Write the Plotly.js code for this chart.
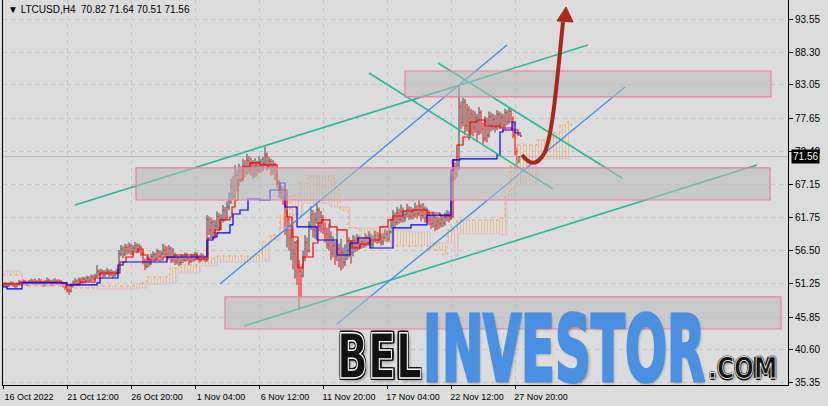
<!DOCTYPE html>
<html><head><meta charset="utf-8">
<script src="https://cdn.plot.ly/plotly-3.0.1.min.js"></script>
<style>
@font-face{font-family:'WMFont';src:local('Liberation Sans Narrow Bold'),local('LiberationSansNarrow-Bold'),local('DejaVu Sans Condensed Bold'),local('DejaVuSansCondensed-Bold'),local('Liberation Sans Bold'),local('LiberationSans-Bold');font-weight:bold;ascent-override:76%;descent-override:0%;line-gap-override:0%;}
html,body{margin:0;padding:0;background:#dcdcdc;}
#wrap{position:relative;width:828px;height:406px;overflow:hidden;}
#chart{position:absolute;left:0;top:0;width:828px;height:406px;}
.wm{position:absolute;white-space:nowrap;line-height:0.8;transform-origin:0 0;font-family:'WMFont','Liberation Sans Narrow','DejaVu Sans Condensed','Liberation Sans',sans-serif;font-weight:bold;pointer-events:none;}
#wmBel{left:337px;top:330px;font-size:62px;color:#111;-webkit-text-stroke:1.4px #fff;text-shadow:2px 0 0 #111,-2px 0 0 #111,0 2px 0 #111,0 -2px 0 #111,2px 2px 0 #111,-2px -2px 0 #111,2px -2px 0 #111,-2px 2px 0 #111,3px 3px 4px rgba(0,0,0,0.35);}
#wmInv{left:423px;top:310px;font-size:92px;color:#4a90e2;-webkit-text-stroke:3px #4a90e2;text-shadow:2px 2px 4px rgba(0,0,0,0.35);}
#wmCom{left:708px;top:355.5px;font-size:29px;color:#111;-webkit-text-stroke:0.8px #fff;text-shadow:1.5px 0 0 #111,-1.5px 0 0 #111,0 1.5px 0 #111,0 -1.5px 0 #111,2px 2px 3px rgba(0,0,0,0.35);}
</style></head>
<body>
<div id="wrap">
<div id="chart"></div>
<div class="wm" id="wmBel">BEL</div>
<div class="wm" id="wmInv">INVESTOR</div>
<div class="wm" id="wmCom">.COM</div>
</div>
<script>
// ---- data (H4 bars, LTCUSD) ----
const tickLabels = ["16 Oct 2022","21 Oct 12:00","26 Oct 20:00","1 Nov 04:00","6 Nov 12:00","11 Nov 20:00","17 Nov 04:00","22 Nov 12:00","27 Nov 20:00"];
const tickBars = [0,32,64,96,128,160,192,224,256];
const priceTicks = [93.55,88.30,83.05,77.65,72.40,67.15,61.75,56.50,51.25,45.85,40.60,35.35];
const lastPrice = 71.56;

const opens = [
51.1,51.0,51.2,50.9,51.1,51.3,51.0,50.8,51.1,51.4,51.2,51.5,51.3,51.1,51.4,51.6,
51.3,51.5,51.2,51.6,51.4,51.1,51.3,51.7,51.5,51.2,51.4,51.6,51.3,51.5,51.2,
51.0,50.6,50.2,50.0,
50.9,51.3,51.6,51.2,51.8,51.5,51.9,51.7,52.1,51.8,52.3,52.0,
52.4,
53.2,52.8,53.1,52.6,52.9,53.2,52.7,53.0,52.6,52.9,
53.1,
56.0,56.8,55.9,57.0,56.4,57.2,56.3,56.9,
57.3,56.6,57.1,
56.0,54.8,54.0,55.2,54.4,
55.6,55.9,55.2,56.3,55.6,56.0,
56.6,56.0,55.4,56.8,55.0,55.8,
54.8,55.3,54.6,55.5,55.0,55.8,55.2,54.8,55.6,55.1,55.9,55.4,55.0,55.7,55.3,
55.0,
61.5,59.8,61.0,59.4,60.5,62.0,60.2,61.5,63.0,61.8,
63.5,64.5,66.8,65.2,68.5,
67.0,69.2,68.0,70.1,69.0,71.0,69.5,70.4,68.8,70.2,69.3,70.8,69.6,70.5,
71.8,70.0,70.8,69.2,70.3,
68.6,67.2,65.8,66.4,
64.6,
59.8,61.5,58.5,60.2,56.0,57.8,54.0,
53.2,
52.5,55.5,57.8,
56.5,60.5,62.3,59.8,61.5,63.0,60.4,61.8,
60.0,59.2,57.5,58.8,56.0,57.3,55.5,56.8,55.0,56.2,54.6,55.8,
56.5,57.5,56.2,58.1,57.0,58.4,
57.2,58.0,57.4,58.6,57.8,58.9,57.5,58.3,59.0,58.2,58.8,57.9,58.6,59.2,58.4,
59.5,60.5,61.8,61.0,62.5,61.5,62.8,61.7,62.3,63.1,62.0,62.7,
62.2,63.0,62.4,63.6,62.1,63.2,61.8,
62.6,61.5,60.8,61.9,60.5,61.2,
60.8,61.5,60.9,61.8,62.3,
61.6,
68.0,69.5,68.8,
70.2,
79.5,77.0,80.2,76.5,79.0,75.8,78.4,
76.2,77.8,75.5,78.6,76.0,74.5,77.2,75.0,78.0,76.4,
77.5,76.2,78.3,76.8,77.9,76.5,78.6,77.2,78.8,
77.6,75.0,72.3,70.82];

const highs = [
51.4,51.5,51.4,51.4,51.6,51.5,51.2,51.4,51.8,51.7,51.9,51.8,51.6,51.8,52.0,51.9,
52.0,51.8,52.1,51.9,51.7,51.8,52.2,52.0,51.8,51.9,52.1,51.9,51.9,51.8,51.5,
51.3,51.0,50.6,51.3,
51.7,52.1,51.9,52.2,52.2,52.3,52.3,52.5,52.4,52.7,52.6,52.8,
54.2,
53.5,53.6,53.4,53.4,53.7,53.5,53.5,53.3,53.3,53.6,
56.6,
57.4,57.2,57.6,57.5,57.8,57.6,57.4,57.9,
57.7,57.6,57.3,
56.3,55.2,55.6,55.5,56.0,
56.4,56.2,56.8,56.6,56.5,57.6,
57.3,57.2,57.4,57.1,56.9,56.2,
55.8,55.6,55.9,55.8,56.2,56.1,55.6,56.0,55.9,56.3,56.2,55.8,56.1,56.0,55.7,
62.2,
62.0,61.8,61.5,61.4,62.8,62.5,62.3,63.8,63.5,64.4,
65.8,68.0,68.5,70.2,69.5,
70.4,70.0,71.2,71.0,72.0,71.6,71.4,71.0,71.3,70.9,71.6,71.2,71.5,73.1,
72.2,71.5,71.2,71.0,70.6,
69.0,67.8,67.0,66.8,
65.0,
63.0,62.0,60.5,60.6,58.0,58.2,55.0,
54.0,
56.5,59.0,58.6,
61.2,63.6,63.0,62.6,64.0,63.4,62.8,62.2,
61.0,60.2,60.8,59.6,58.8,58.0,59.8,57.6,58.4,57.0,57.5,58.0,
58.6,58.2,59.0,58.8,59.2,58.9,
58.7,58.6,59.3,59.0,59.6,59.2,58.9,59.7,59.5,59.4,59.2,59.3,59.9,59.7,60.2,
61.6,63.0,62.6,63.5,63.2,63.9,63.4,63.0,64.0,63.6,63.5,63.3,
64.2,63.8,64.6,64.0,64.1,63.6,63.4,
63.0,62.2,62.8,62.3,62.0,61.8,
62.3,62.0,62.6,63.0,62.8,
68.6,
71.0,70.6,71.2,
83.0,
80.4,81.0,80.8,80.0,79.6,79.2,79.0,
78.8,78.4,79.5,79.0,77.0,78.0,77.8,78.8,78.6,78.4,
78.2,79.0,78.8,78.6,78.4,79.2,79.0,79.5,79.2,
78.0,75.8,73.0,71.64];

const lows = [
50.7,50.8,50.6,50.7,50.9,50.7,50.5,50.6,50.9,50.9,51.0,51.0,50.8,50.9,51.2,51.0,
51.0,50.9,51.0,51.1,50.7,50.8,51.1,51.2,50.8,50.9,51.1,51.0,51.0,50.8,50.6,
50.2,49.8,49.4,49.8,
50.6,51.0,50.9,51.0,51.2,51.2,51.3,51.4,51.5,51.6,51.7,51.8,
52.2,
52.4,52.5,52.2,52.3,52.6,52.3,52.4,52.1,52.3,52.6,
52.8,
55.6,55.3,55.6,55.9,56.0,55.8,55.8,56.4,
56.1,56.2,55.6,
54.3,53.4,53.7,53.9,54.2,
55.2,54.8,55.0,55.2,55.2,55.7,
55.5,54.9,55.1,54.5,54.6,54.2,
54.3,54.0,54.2,54.5,54.7,54.8,54.2,54.5,54.7,54.8,55.0,54.6,54.7,54.9,54.6,
54.7,
59.0,58.6,58.4,58.8,60.0,59.6,59.8,61.0,61.2,61.4,
63.0,64.0,64.6,64.8,66.0,
66.8,67.4,67.6,68.2,68.6,68.8,68.5,68.0,68.2,68.4,68.9,69.0,69.2,70.0,
69.3,69.5,68.5,68.6,67.8,
66.6,65.0,64.8,63.8,
59.0,
57.0,56.5,55.0,53.5,52.0,51.0,47.3,
49.0,
52.2,54.8,55.6,
56.2,59.8,58.6,58.4,60.8,59.6,59.4,59.2,
57.8,56.8,56.5,55.0,55.4,54.2,54.8,53.8,53.3,53.6,54.0,55.0,
55.4,54.4,55.6,56.2,56.4,56.6,
56.8,56.9,57.0,57.2,57.3,56.9,57.0,57.8,57.6,57.7,57.3,57.4,58.0,57.9,58.0,
59.2,60.0,60.2,60.6,60.8,61.0,61.0,61.1,61.8,61.4,61.5,61.5,
61.8,61.6,62.0,61.2,61.6,61.0,61.1,
60.6,60.0,60.2,59.6,59.8,60.0,
60.2,60.3,60.5,61.2,61.0,
61.4,
67.5,67.8,68.2,
69.4,
76.0,76.4,75.0,75.6,74.2,75.0,74.8,
75.4,74.0,75.0,75.2,73.6,74.0,73.8,74.6,75.6,75.8,
75.4,75.8,76.0,76.2,75.6,76.0,76.6,76.8,77.0,
74.5,71.8,70.3,70.51];

const closes = [
51.0,51.2,50.9,51.1,51.3,51.0,50.8,51.1,51.4,51.2,51.5,51.3,51.1,51.4,51.6,51.3,
51.5,51.2,51.6,51.4,51.1,51.3,51.7,51.5,51.2,51.4,51.6,51.3,51.5,51.2,51.0,
50.6,50.2,50.0,50.9,
51.3,51.6,51.2,51.8,51.5,51.9,51.7,52.1,51.8,52.3,52.0,52.4,
53.2,
52.8,53.1,52.6,52.9,53.2,52.7,53.0,52.6,52.9,53.1,
56.0,
56.8,55.9,57.0,56.4,57.2,56.3,56.9,57.3,
56.6,57.1,56.0,
54.8,54.0,55.2,54.4,55.6,
55.9,55.2,56.3,55.6,56.0,56.6,
56.0,55.4,56.8,55.0,55.8,54.8,
55.3,54.6,55.5,55.0,55.8,55.2,54.8,55.6,55.1,55.9,55.4,55.0,55.7,55.3,55.0,
61.5,
59.8,61.0,59.4,60.5,62.0,60.2,61.5,63.0,61.8,63.5,
64.5,66.8,65.2,68.5,67.0,
69.2,68.0,70.1,69.0,71.0,69.5,70.4,68.8,70.2,69.3,70.8,69.6,70.5,71.8,
70.0,70.8,69.2,70.3,68.6,
67.2,65.8,66.4,64.6,
59.8,
61.5,58.5,60.2,56.0,57.8,54.0,53.2,
52.5,
55.5,57.8,56.5,
60.5,62.3,59.8,61.5,63.0,60.4,61.8,60.0,
59.2,57.5,58.8,56.0,57.3,55.5,56.8,55.0,56.2,54.6,55.8,56.5,
57.5,56.2,58.1,57.0,58.4,57.2,
58.0,57.4,58.6,57.8,58.9,57.5,58.3,59.0,58.2,58.8,57.9,58.6,59.2,58.4,59.5,
60.5,61.8,61.0,62.5,61.5,62.8,61.7,62.3,63.1,62.0,62.7,62.2,
63.0,62.4,63.6,62.1,63.2,61.8,62.6,
61.5,60.8,61.9,60.5,61.2,60.8,
61.5,60.9,61.8,62.3,61.6,
68.0,
69.5,68.8,70.2,
79.5,
77.0,80.2,76.5,79.0,75.8,78.4,76.2,
77.8,75.5,78.6,76.0,74.5,77.2,75.0,78.0,76.4,77.5,
76.2,78.3,76.8,77.9,76.5,78.6,77.2,78.8,77.6,
75.0,72.3,70.82,71.56];

// Ichimoku lines (bar index, price)
const tenkanX = [0,8.5,29.5,31.5,34.5,38.5,46,48.5,57.5,58.5,61.5,65,67.5,70,72.5,80,86,97,102.5,106,108.5,113.5,114.5,116,117.5,120,123.5,128.5,136,137,138.5,142,144.5,147.5,150,155,157.5,159.5,163.5,167,172,174.5,178.5,183.5,188.5,192.5,195,200,205,212,218.5,223.5,225,227,230,233.5,237,241,248.5,254.5,257.5,259];
const tenkanY = [51.16,51.48,51.32,50.84,51.0,51.48,52.12,52.92,52.92,54.68,55.48,56.28,56.76,55.8,55.0,55.48,55.8,55.16,58.52,59.81,61.41,61.89,63.49,64.61,67.81,69.89,70.54,70.22,70.22,67.33,66.21,61.89,58.68,53.72,55.48,57.72,60.93,61.41,60.29,59.81,58.04,56.92,57.56,58.2,60.29,61.41,62.05,62.85,63.01,62.53,62.05,61.89,71.02,73.42,74.70,77.10,77.42,76.46,76.14,75.82,75.02,74.70];
const kijunX = [0,2,9.5,32,47,48.5,57.5,60,82,102,105,107,113.5,115,118.5,122.5,128.5,133.5,138.5,141,147,157,167,173.5,177.5,183.5,195,204,212,224,225,228.5,247,248.5,250,254.5,256,259];
const kijunY = [50.68,50.36,51.32,51.0,51.32,52.12,54.2,54.68,55.48,58.2,58.68,59.33,60.61,62.37,63.01,64.77,64.61,66.21,67.33,63.49,60.29,58.2,55.8,57.72,58.52,56.92,60.13,60.61,62.2,69.4,71.02,71.18,71.82,75.5,75.82,77.1,75.34,75.34];
const spanAX = [0,9.5,32,47,67,72,83.5,88.5,98.5,107,127.5,129.5,133.5,138.5,143.5,148.5,152.5,163.5,166,168.5,172.5,178.5,193.5,213.5,220,222,227,248.5,251,253.5,257,267,275,278.5,282,284];
const spanAY = [52.6,50.84,50.52,50.84,51.32,52.28,53.72,54.2,55.32,55.64,55.8,57.88,59.0,62.2,65.41,67.33,68.45,68.13,66.21,63.0,60.13,58.2,57.24,56.6,55.8,59.8,61.41,61.73,65.41,70.21,73.42,74.22,75.34,76.62,77.1,75.02];
const spanBX = [0,8.5,9.5,28.5,47,67,72,83.5,87,98.5,107,129.5,133.5,138.5,145,150,163.5,173.5,193.5,203.5,213.5,226,227.5,248.5,252,257,267,284];
const spanBY = [53.24,53.24,51.16,51.0,50.36,50.52,51.16,51.32,52.92,54.04,54.68,54.84,58.2,60.13,62.21,64.13,63.49,60.13,59.81,59.49,57.72,55.64,59.17,59.0,64.61,67.01,71.18,71.18];

const barIdx = closes.map((_, i) => i);

const traces = [
  {type:'scatter', mode:'lines', x:spanBX, y:spanBY, line:{color:'#d8bfd8', width:1, shape:'hv'}, hoverinfo:'skip'},
  {type:'scatter', mode:'lines', x:spanAX, y:spanAY, line:{color:'#f4a460', width:1, dash:'dot', shape:'hv'},
   fill:'tonexty', fillcolor:'rgba(0,0,0,0)',
   fillpattern:{shape:'|', fgcolor:'rgba(244,164,96,0.8)', bgcolor:'rgba(0,0,0,0)', size:3, solidity:0.22}, hoverinfo:'skip'},
  {type:'ohlc', x:barIdx, open:opens, high:highs, low:lows, close:closes, tickwidth:0.3,
   increasing:{line:{color:'#2f4f4f', width:1}}, decreasing:{line:{color:'#ff0000', width:1}}, hoverinfo:'skip'},
  {type:'scatter', mode:'lines', x:tenkanX, y:tenkanY, line:{color:'#ff0000', width:1.2, shape:'hv'}, hoverinfo:'skip'},
  {type:'scatter', mode:'lines', x:kijunX, y:kijunY, line:{color:'#0000ff', width:1.2, shape:'hv'}, hoverinfo:'skip'}
];

const teal = '#26b99a', tblue = '#3d8ef0', pink = 'rgb(232,128,158)', rectFill = 'rgba(185,185,185,0.55)', arrowCol = '#a8281c';
const shapes = [
  {type:'line', xref:'paper', yref:'y', x0:0, x1:1, y0:lastPrice, y1:lastPrice, line:{color:'#b8b8b8', width:1}, layer:'below'},
  {type:'line', x0:36, y0:63.81, x1:292.5, y1:89.43, line:{color:teal, width:1.6}},
  {type:'line', x0:120.5, y0:44.43, x1:377, y1:70.22, line:{color:teal, width:1.6}},
  {type:'line', x0:217.5, y0:86.55, x1:309.5, y1:68.13, line:{color:teal, width:1.6}},
  {type:'line', x0:183, y0:84.95, x1:275, y1:66.37, line:{color:teal, width:1.6}},
  {type:'line', x0:108.5, y0:51.16, x1:252, y1:89.43, line:{color:tblue, width:1.3}},
  {type:'line', x0:167, y0:44.75, x1:311, y1:82.71, line:{color:tblue, width:1.3}},
  {type:'rect', x0:201, x1:384, y0:81.11, y1:85.27, fillcolor:rectFill, line:{color:pink, width:1.2}, layer:'above'},
  {type:'rect', x0:66.5, x1:383.5, y0:64.61, y1:69.74, fillcolor:rectFill, line:{color:pink, width:1.2}, layer:'above'},
  {type:'rect', x0:111, x1:389, y0:43.95, y1:49.08, fillcolor:rectFill, line:{color:pink, width:1.2}, layer:'above'},
  {type:'path', path:'M259.5,71.82 C263.5,70.22 267,69.9 271,72.3 C275,75.5 277,83.83 280,93.12', line:{color:arrowCol, width:4}, fillcolor:'rgba(0,0,0,0)'},
  {type:'path', path:'M281.5,95.52 L277,93.28 L285,93.12 Z', fillcolor:arrowCol, line:{color:arrowCol, width:1}}
];

const layout = {
  width:828, height:406,
  margin:{l:3, r:40, t:0, b:21},
  paper_bgcolor:'#dcdcdc', plot_bgcolor:'#dcdcdc',
  font:{family:'Liberation Sans, Arial, sans-serif', size:10, color:'#000'},
  showlegend:false, hovermode:false, dragmode:false,
  xaxis:{type:'linear', range:[0,392.5], rangeslider:{visible:false}, tickmode:'array', tickvals:tickBars, ticktext:tickLabels,
         tickangle:0, tickfont:{size:9}, ticks:'outside', ticklen:3, tickcolor:'#000', showline:true, linecolor:'#000', linewidth:1,
         showgrid:true, gridcolor:'#c4c4c4', griddash:'4px,4px', zeroline:false, ticklabelshift:26, fixedrange:true},
  yaxis:{side:'right', range:[34.98,96.64], tickmode:'array', tickvals:priceTicks, ticktext:priceTicks.map(v=>v.toFixed(2)),
         ticks:'outside', ticklen:4, tickcolor:'#000', showline:true, mirror:true, linecolor:'#000', linewidth:1,
         showgrid:true, gridcolor:'#c4c4c4', griddash:'4px,4px', zeroline:false, fixedrange:true},
  shapes:shapes,
  annotations:[
    {xref:'paper', yref:'paper', x:0, y:1, xanchor:'left', yanchor:'top', xshift:3, yshift:-2, showarrow:false,
     text:'\u25BC LTCUSD,H4\u00a0\u00a070.82 71.64 70.51 71.56', font:{size:10, color:'#000'}},
    {xref:'paper', yref:'y', x:1, y:lastPrice, xanchor:'left', yanchor:'middle', xshift:3, showarrow:false,
     text:'71.56', bgcolor:'#000', borderpad:1, font:{size:10, color:'#fff'}}
  ]
};

Plotly.newPlot('chart', traces, layout, {staticPlot:true, displayModeBar:false}).then(function(){
  const targets = {wmBel:85, wmInv:282, wmCom:69};
  Object.keys(targets).forEach(function(id){
    const el = document.getElementById(id);
    const w = el.getBoundingClientRect().width;
    if (w > 0) el.style.transform = 'scaleX(' + (targets[id]/w) + ')';
  });
});
</script>
</body></html>
